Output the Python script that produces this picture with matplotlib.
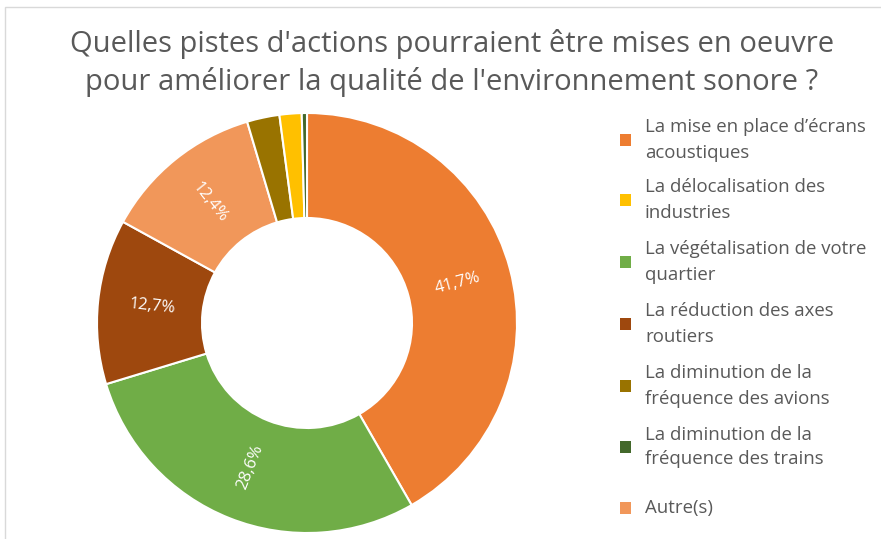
import matplotlib.pyplot as plt
from matplotlib.patches import Rectangle
import numpy as np

# Données du graphique (ordre horaire à partir du haut)
categories = ["La mise en place d\u2019écrans\nacoustiques",
              "La végétalisation de votre\nquartier",
              "La réduction des axes\nroutiers",
              "Autre(s)",
              "La diminution de la\nfréquence des avions",
              "La délocalisation des\nindustries",
              "La diminution de la\nfréquence des trains"]
valeurs = [41.7, 28.6, 12.7, 12.4, 2.5, 1.7, 0.4]
etiquettes = ["41,7%", "28,6%", "12,7%", "12,4%", "", "", ""]
couleurs = ["#ED7D31", "#70AD47", "#9E480E", "#F1975A", "#997300", "#FFC000", "#43682B"]

# Ordre de la légende
ordre_legende = [0, 5, 1, 2, 4, 6, 3]

titre = "Quelles pistes d'actions pourraient être mises en oeuvre\npour améliorer la qualité de l'environnement sonore ?"

plt.rcParams['font.family'] = ['Open Sans', 'DejaVu Sans']
gris = "#595959"

W, H = 881, 539
fig = plt.figure(figsize=(W / 100, H / 100), dpi=100)

# cadre gris clair
fig.add_artist(Rectangle((5 / W, -0.1), 1.2, 1 - 7 / H + 0.1, transform=fig.transFigure,
                         fill=False, edgecolor="#d9d9d9", linewidth=1))

cx, cy, r = 307, 323, 210
ax = fig.add_axes([(cx - r) / W, (H - cy - r) / H, 2 * r / W, 2 * r / H])
wedges, _ = ax.pie(valeurs, colors=couleurs, startangle=90, counterclock=False,
                   wedgeprops=dict(width=0.5, edgecolor="white", linewidth=1.5))
ax.set_xlim(-1, 1)
ax.set_ylim(-1, 1)
ax.set_aspect('equal')

# étiquettes de pourcentage orientées radialement
for w, txt in zip(wedges, etiquettes):
    if not txt:
        continue
    ang = (w.theta1 + w.theta2) / 2
    x = 0.74 * np.cos(np.radians(ang))
    y = 0.74 * np.sin(np.radians(ang))
    rot = ang % 360
    if 90 < rot < 270:
        rot -= 180
    elif rot >= 270:
        rot -= 360
    ax.text(x, y, txt, ha="center", va="center", rotation=rot,
            rotation_mode="anchor", color="white", fontsize=12)

fig.text(452 / W, 1 - 63 / H, titre, ha="center", va="center", fontsize=21,
         color=gris, linespacing=1.35)

# légende
y_leg = [140, 200, 262, 324, 386, 447, 508]
for yy, i in zip(y_leg, ordre_legende):
    fig.add_artist(Rectangle((620 / W, 1 - (yy + 6) / H), 11 / W, 12 / H,
                             transform=fig.transFigure, facecolor=couleurs[i],
                             edgecolor="none"))
    fig.text(645 / W, 1 - yy / H, categories[i], ha="left", va="center",
             fontsize=13.4, color=gris, linespacing=1.5)

fig.savefig("out.png", dpi=100)
